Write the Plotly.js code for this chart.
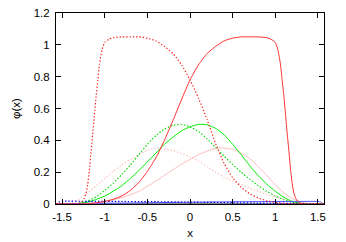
<!DOCTYPE html>
<html>
<head>
<meta charset="utf-8">
<script src="https://cdn.plot.ly/plotly-3.0.1.min.js"></script>
<style>html,body{margin:0;padding:0;background:#fff;}#chart{width:346px;height:242px;}</style>
</head>
<body>
<div id="chart"></div>
<script>
// red dotted (left-shifted)
const redDotX = [-1.5708,-1.34,-1.30,-1.27,-1.24,-1.22,-1.20,-1.18,-1.16,-1.14,-1.12,-1.10,-1.08,-1.06,-1.03,-1.0,-0.95,-0.9,-0.8,-0.7,-0.6,-0.5,-0.4,-0.3,-0.2,-0.1,0,0.1,0.2,0.3,0.4,0.5,0.6,0.7,0.8,0.9,1.0,1.1,1.2,1.3,1.5708];
const redDotY = [0,0,0.003,0.012,0.035,0.065,0.12,0.21,0.33,0.44,0.56,0.68,0.78,0.88,0.97,1.015,1.035,1.045,1.05,1.05,1.05,1.042,1.025,0.99,0.945,0.875,0.78,0.665,0.53,0.38,0.255,0.165,0.105,0.065,0.038,0.02,0.01,0.004,0.001,0,0];
// red solid (right-shifted)
const redSolX = [-1.5708,-1.3,-1.2,-1.1,-1.0,-0.9,-0.8,-0.7,-0.6,-0.5,-0.4,-0.3,-0.2,-0.1,0,0.1,0.2,0.3,0.4,0.5,0.6,0.7,0.8,0.9,0.95,1.0,1.03,1.06,1.08,1.10,1.12,1.14,1.16,1.18,1.20,1.22,1.24,1.27,1.30,1.34,1.5708];
const redSolY = [0,0,0.002,0.007,0.016,0.03,0.05,0.085,0.135,0.205,0.29,0.4,0.525,0.655,0.78,0.875,0.945,0.99,1.025,1.042,1.05,1.05,1.05,1.045,1.035,1.015,0.97,0.88,0.78,0.68,0.56,0.44,0.33,0.21,0.12,0.065,0.035,0.012,0.003,0,0];
// green
const gX = [-1.5708,-1.4,-1.3,-1.2,-1.1,-1.0,-0.9,-0.8,-0.7,-0.6,-0.5,-0.4,-0.3,-0.2,-0.1,0,0.1,0.2,0.3,0.4,0.5,0.6,0.7,0.8,0.9,1.0,1.1,1.2,1.3,1.4,1.5708];
const greenSolY = [0,0.001,0.004,0.012,0.028,0.05,0.08,0.115,0.16,0.21,0.265,0.32,0.375,0.42,0.46,0.485,0.5,0.498,0.475,0.435,0.375,0.31,0.24,0.178,0.125,0.08,0.042,0.016,0.004,0.001,0];
const greenDotY = [0,0.001,0.005,0.018,0.045,0.085,0.13,0.185,0.245,0.31,0.375,0.43,0.47,0.495,0.5,0.485,0.455,0.41,0.355,0.3,0.248,0.2,0.155,0.115,0.08,0.05,0.027,0.011,0.003,0.001,0];
// pink
const pinkSolY = [0,0.001,0.002,0.004,0.008,0.015,0.026,0.04,0.058,0.08,0.11,0.145,0.18,0.215,0.25,0.28,0.31,0.333,0.348,0.352,0.343,0.32,0.285,0.235,0.18,0.12,0.07,0.035,0.012,0.003,0];
const pinkDotY = [0,0.005,0.03,0.07,0.115,0.16,0.205,0.245,0.28,0.312,0.338,0.35,0.346,0.335,0.318,0.298,0.27,0.235,0.2,0.17,0.145,0.122,0.1,0.08,0.06,0.045,0.03,0.018,0.008,0.002,0];
// blue
const bX = [-1.5708,-1.55,-1.53,-1.5,-1.2,-0.8,-0.5,0,0.5,0.8,1.2,1.5,1.53,1.55,1.5708];
const blueDotY = [0,0.006,0.014,0.017,0.017,0.016,0.015,0.012,0.008,0.006,0.004,0.002,0.001,0.0005,0];
const blueSolY = [0,0.0005,0.001,0.002,0.004,0.006,0.008,0.011,0.014,0.015,0.016,0.016,0.013,0.005,0];
// baseline curves
const baseX = [-1.5708,1.5708];
const baseY = [0,0];

const xTicks = [-1.5,-1,-0.5,0,0.5,1,1.5];
const xTickText = ["-1.5","-1","-0.5","0","0.5","1","1.5"];
const yTicks = [0,0.2,0.4,0.6,0.8,1,1.2];
const yTickText = ["0","0.2","0.4","0.6","0.8","1","1.2"];

const DOT = '1.4px,1.9px';
function tr(x,y,color,dash,w){return {x:x,y:y,type:'scatter',mode:'lines',line:{color:color,width:w||1,dash:dash,shape:'spline',smoothing:0.5},hoverinfo:'skip',showlegend:false};}

const data = [
  tr(baseX,baseY,'#888888','solid',2),
  tr(gX,pinkSolY,'#ffbcbc','solid'),
  tr(gX,pinkDotY,'#ffb8b8',DOT,1.1),
  tr(gX,greenSolY,'#00ee00','solid'),
  tr(gX,greenDotY,'#00dd00',DOT,1.2),
  tr(bX,blueSolY,'#5050ff','solid'),
  tr(bX,blueDotY,'#0000ee',DOT,1.2),
  tr(redSolX,redSolY,'#ff3030','solid'),
  tr(redDotX,redDotY,'#ff2020',DOT,1.15)
];

const axFont = {family:'"Liberation Sans", Arial, sans-serif', size:11.5, color:'#000'};
const layout = {
  width:346, height:242,
  margin:{l:56, r:22, t:13, b:38, pad:0},
  paper_bgcolor:'#fff', plot_bgcolor:'#fff',
  font:axFont,
  showlegend:false,
  xaxis:{range:[-1.5708,1.5708], tickvals:xTicks, ticktext:xTickText, ticks:'inside', ticklen:5, tickcolor:'#000', tickwidth:1,
    showline:true, linecolor:'#000', linewidth:1, mirror:'ticks', showgrid:false, zeroline:false, tickfont:axFont,
    ticklabelstandoff:2,
    title:{text:'x', font:axFont, standoff:7}},
  yaxis:{range:[0,1.2], tickvals:yTicks, ticktext:yTickText, ticks:'inside', ticklen:5, tickcolor:'#000', tickwidth:1,
    showline:true, linecolor:'#000', linewidth:1, mirror:'ticks', showgrid:false, zeroline:false, tickfont:axFont,
    ticklabelstandoff:3,
    title:{text:'φ(x)', font:axFont, standoff:10}}
};
Plotly.newPlot('chart', data, layout, {staticPlot:true, displayModeBar:false});
</script>
</body>
</html>
